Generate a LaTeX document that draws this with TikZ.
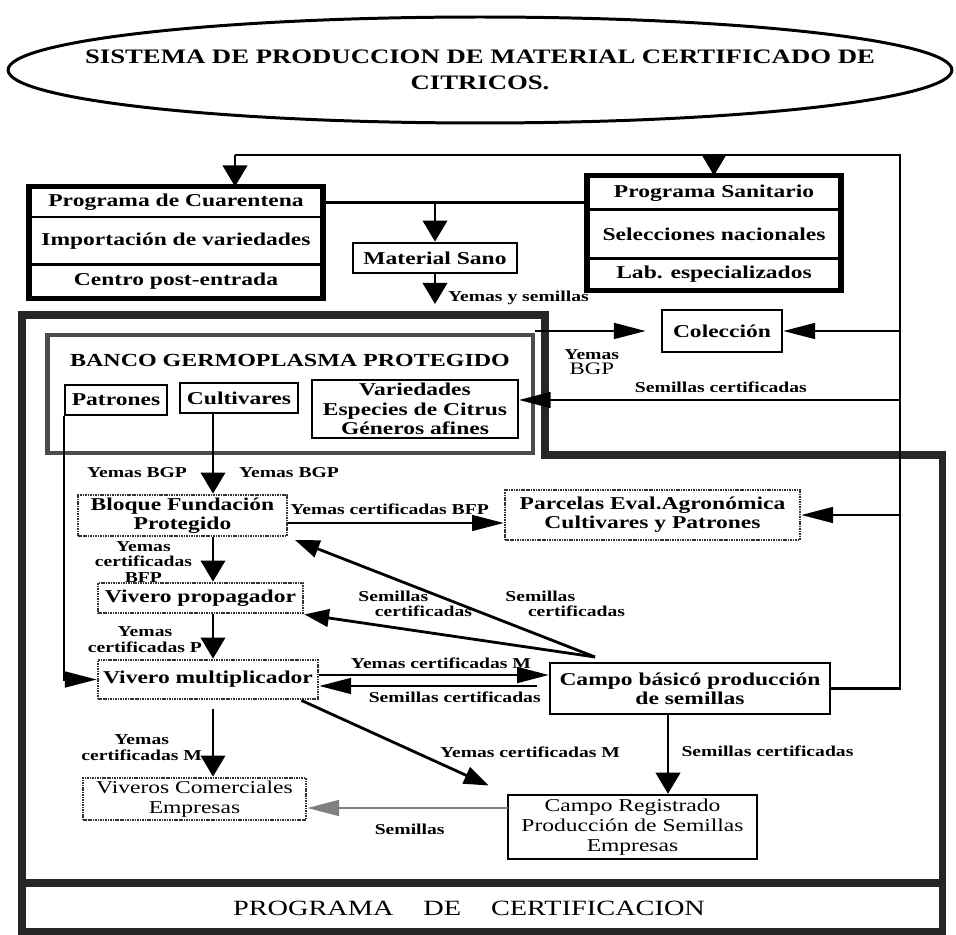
\documentclass[tikz,border=0pt]{standalone}
\usepackage{fontspec}
\setmainfont{Liberation Serif}[FakeStretch=1.3]
\usepackage{tikz}
\usetikzlibrary{arrows.meta,positioning}

\tikzset{
	caja/.style={draw, line width=1.1pt, inner sep=0pt, align=center, font=\bfseries\fontsize{10.3}{11}\selectfont},
	fila/.style={caja, line width=1.7pt},
	punteada/.style={caja, draw=black!80, line width=1.6pt, dash pattern=on 0.9pt off 0.5pt},
	fina/.style={font=\mdseries\fontsize{10.3}{11.3}\selectfont},
	etiqueta/.style={inner sep=0pt, align=center, font=\bfseries\fontsize{8.6}{8.8}\selectfont},
	linea/.style={line width=1.2pt},
	varrow/.style={linea, -{Triangle[length=12pt, width=14pt]}},
	harrow/.style={linea, -{Triangle[length=18pt, width=9pt]}},
	darrow/.style={line width=1.6pt, -{Triangle[length=14pt, width=10pt]}}
}

\begin{document}
\begin{tikzpicture}[x=0.02cm, y=-0.02cm]
	\useasboundingbox (0,0) rectangle (956,935);

	\node[align=center, font=\bfseries\fontsize{11.7}{14.7}\selectfont] (titulo) at (480,70) {SISTEMA DE PRODUCCION DE MATERIAL CERTIFICADO DE\\CITRICOS.};
	\draw[line width=1.7pt] (titulo.center) ellipse [x radius=9.44cm, y radius=1.06cm];

	\node[fila, minimum width=5.84cm, minimum height=0.58cm] (cuar1) at (176,202.5) {Programa de Cuarentena};
	\node[fila, minimum width=5.84cm, minimum height=0.96cm] (cuar2) at (176,241) {Importación de variedades};
	\node[fila, minimum width=5.84cm, minimum height=0.64cm] (cuar3) at (176,281) {Centro post-entrada};
	\draw[line width=2.8pt] (cuar1.north west) rectangle (cuar3.south east);

	\node[fila, minimum width=5.04cm, minimum height=0.66cm] (san1) at (714,193.5) {Programa Sanitario};
	\node[fila, minimum width=5.04cm, minimum height=0.98cm] (san2) at (714,234.5) {Selecciones nacionales};
	\node[fila, minimum width=5.04cm, minimum height=0.6cm] (san3) at (714,274) {Lab. especializados};
	\draw[line width=2.8pt] (san1.north west) rectangle (san3.south east);

	\node[caja, line width=1.6pt, minimum width=3.28cm, minimum height=0.6cm] (sano) at (435,258) {Material Sano};

	\draw[line width=4pt, black!85] (22,315) -- (545,315) -- (545,455) -- (942,455) -- (942,932) -- (22,932) -- cycle;
	\draw[line width=4pt, black!85] (22,883) -- (942,883);
	\node[font=\fontsize{12.4}{13}\selectfont] (cert) at (469,908) {PROGRAMA\hspace{17pt}DE\hspace{17pt}CERTIFICACION};

	\node[draw=black!70, line width=2.8pt, minimum width=9.72cm, minimum height=2.36cm] (bgp) at (290,394) {};
	\node[font=\bfseries\fontsize{10.5}{12}\selectfont] (bgpt) at (290,360) {BANCO GERMOPLASMA PROTEGIDO};
	\node[caja, minimum width=2.04cm, minimum height=0.6cm] (patrones) at (116,400) {Patrones};
	\node[caja, minimum width=2.36cm, minimum height=0.6cm] (cultivares) at (239,398) {Cultivares};
	\node[caja, minimum width=4.12cm, minimum height=1.16cm] (variedades) at (415,409) {Variedades\\Especies de Citrus\\Géneros afines};

	\node[caja, line width=1.6pt, minimum width=2.4cm, minimum height=0.84cm] (coleccion) at (722,331) {Colección};

	\node[punteada, minimum width=4.18cm, minimum height=0.82cm] (bloque) at (182.5,515.5) {Bloque Fundación\\Protegido};
	\node[punteada, minimum width=5.9cm, minimum height=1cm] (parcelas) at (652.5,515) {Parcelas Eval.Agronómica\\Cultivares y Patrones};
	\node[punteada, minimum width=4.1cm, minimum height=0.6cm] (propagador) at (200.5,598) {Vivero propagador};
	\node[punteada, minimum width=4.4cm, minimum height=0.78cm] (multiplicador) at (208,679.5) {Vivero multiplicador};
	\node[punteada, fina, minimum width=4.46cm, minimum height=0.84cm] (comerciales) at (194.5,799) {Viveros Comerciales\\Empresas};
	\node[caja, line width=1.4pt, minimum width=5.6cm, minimum height=1.02cm] (campo) at (690,688.5) {Campo básicó producción\\de semillas};
	\node[caja, fina, line width=1.4pt, minimum width=4.98cm, minimum height=1.28cm] (registrado) at (632.5,827) {Campo Registrado\\Producción de Semillas\\Empresas};

	\coordinate (bustop) at (900,155);
	\coordinate (q1) at (235,155);
	\draw[linea] (campo.east) -| (bustop) -- (q1);
	\path[varrow] (q1) edge (q1 |- cuar1.north);
	\path[varrow] (san1.north |- bustop) edge (san1.north);

	\draw[linea] (cuar1.east) -- (cuar1.east -| san1.west);
	\path[varrow] (sano.north |- cuar1.east) edge (sano.north);
	\coordinate (ys) at (435,304);
	\path[varrow] (sano.south) edge node[etiqueta, pos=0.8, right=0.24cm] {Yemas y semillas} (ys);

	\path[harrow] (bgp.east |- coleccion.west) edge[shorten >=0.3cm] node[etiqueta, pos=0.45, below=0.35cm] {Yemas\\{\mdseries\fontsize{10}{11}\selectfont BGP}} (coleccion.west);
	\path[harrow] (bustop |- coleccion.east) edge (coleccion.east);
	\path[harrow] (bustop |- parcelas.east) edge (parcelas.east);
	\coordinate (b2) at (900,400);
	\path[harrow] (b2) edge node[etiqueta, pos=0.47, above=0.12cm] {Semillas certificadas} (b2 -| variedades.east);

	\coordinate (sp) at (213,0);
	\path[varrow] (sp |- cultivares.south) edge node[etiqueta, pos=0.73, left=0.5cm] {Yemas BGP} node[etiqueta, pos=0.73, right=0.5cm] {Yemas BGP} (sp |- bloque.north);
	\path[varrow] (sp |- bloque.south) edge node[etiqueta, pos=0.55, left=0.4cm] {Yemas\\certificadas\\BFP} (sp |- propagador.north);
	\path[varrow] (sp |- propagador.south) edge node[etiqueta, pos=0.57, left=0.2cm] {Yemas\\certificadas P} (sp |- multiplicador.north);
	\path[varrow] (sp |- multiplicador.south) edge[shorten <=0.18cm] node[etiqueta, pos=0.62, left=0.2cm] {Yemas\\certificadas M} (sp |- comerciales.north);
	\draw[harrow] (patrones.south west) |- (multiplicador.west);

	\coordinate (bf) at ([yshift=-0.15cm]bloque.east);
	\path[harrow] (bf) edge node[etiqueta, pos=0.47, above=0.14cm] {Yemas certificadas BFP} (bf -| parcelas.west);

	\coordinate (src) at (595,657);
	\path[darrow] (src) edge[shorten >=4pt] (bloque.south east);
	\path[darrow] (src) edge (propagador.south east);
	\node[etiqueta, align=left, anchor=west] (sc1) at (358,604) {Semillas\\\hspace*{1.1em}certificadas};
	\node[etiqueta, align=left, anchor=west] (sc2) at (505,604) {Semillas\\\hspace*{1.5em}certificadas};

	\coordinate (m1) at ([yshift=0.09cm]multiplicador.east);
	\coordinate (m2) at ([yshift=-0.13cm]multiplicador.east);
	\path[harrow] (m1) edge node[etiqueta, pos=0.53, above=0.1cm] {Yemas certificadas M} (m1 -| campo.west);
	\path[harrow] (m2 -| campo.west) edge[shorten <=0.24cm] node[etiqueta, pos=0.41, below=0.1cm] {Semillas certificadas} (m2);

	\coordinate (md) at ([xshift=-0.36cm]multiplicador.south east);
	\path[darrow] (md) edge[shorten >=0.4cm] (registrado.north west);
	\node[etiqueta] (ycm) at (530,752) {Yemas certificadas M};

	\coordinate (cb) at (668,714);
	\path[varrow] (cb) edge node[etiqueta, pos=0.47, right=0.25cm] {Semillas certificadas} (cb |- registrado.north);
	\coordinate (cr) at (508,808);
	\path[harrow, black!50] (cr) edge node[etiqueta, black, pos=0.49, below=0.3cm] {Semillas} (cr -| comerciales.east);
\end{tikzpicture}
\end{document}
